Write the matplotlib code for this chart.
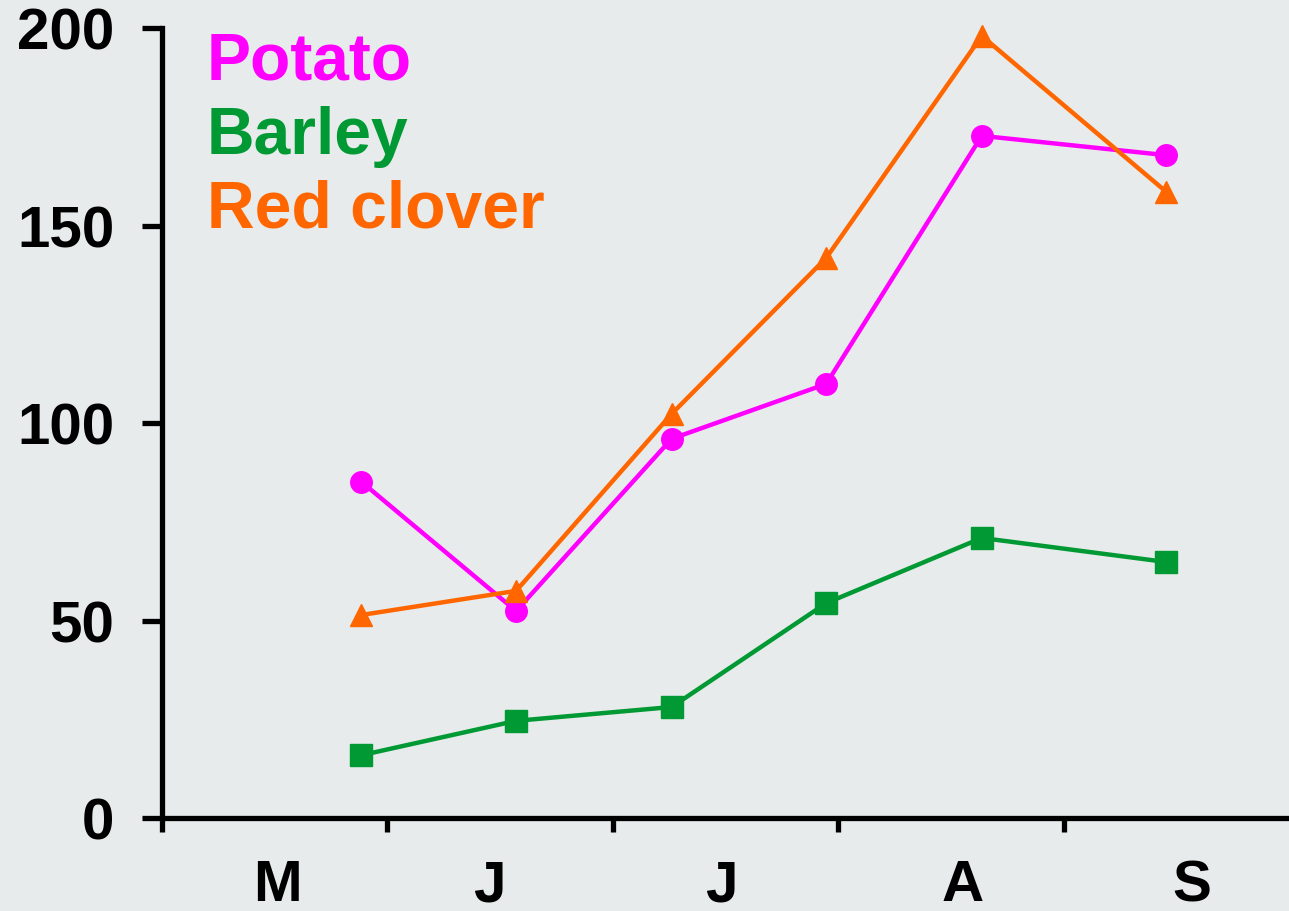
import matplotlib
matplotlib.use("Agg")
from matplotlib import pyplot as plt

# sampling dates in month units (0 = start of May)
dates = [0.885, 1.571, 2.261, 2.947, 3.637, 4.456]
potato = [85.1, 52.4, 96.0, 109.9, 172.7, 167.8]
barley = [15.9, 24.6, 28.1, 54.4, 70.9, 64.8]
red_clover = [51.4, 57.5, 102.3, 141.8, 198.0, 158.5]

month_ticks = [0, 1, 2, 3, 4]
month_label_pos = [0.51, 1.45, 2.48, 3.55, 4.57]
month_labels = ["M", "J", "J", "A", "S"]
y_ticks = [0, 50, 100, 150, 200]

bg = "#e7ebeb"
c_potato = "#ff00ff"
c_barley = "#009933"
c_clover = "#ff6600"

plt.rcParams["font.family"] = ["Liberation Sans", "DejaVu Sans"]
plt.rcParams["font.weight"] = "bold"

fig = plt.figure(figsize=(12.89, 9.12), dpi=100, facecolor=bg)
ax = fig.add_axes([162 / 1289, 93 / 912, (1289 - 162) / 1289, 790 / 912])
ax.set_facecolor(bg)

ax.plot(dates, potato, color=c_potato, lw=3.2, marker="o", ms=15.5, clip_on=False)
ax.plot(dates, barley, color=c_barley, lw=3.2, marker="s", ms=15.5, clip_on=False)
ax.plot(dates, red_clover, color=c_clover, lw=3.2, marker="^", ms=16.5, clip_on=False)

ax.set_xlim(0, 5)
ax.set_ylim(0, 200)

for s in ["top", "right"]:
    ax.spines[s].set_visible(False)
for s in ["left", "bottom"]:
    ax.spines[s].set_linewidth(3.8)

ax.set_yticks(y_ticks)
ax.set_yticklabels([str(v) for v in y_ticks], fontsize=42, fontweight="bold")
ax.tick_params(axis="y", length=14.4, width=3.8, pad=20)

ax.set_xticks(month_ticks)
ax.set_xticklabels([])
ax.tick_params(axis="x", which="major", length=10, width=3.8)
ax.set_xticks(month_label_pos, minor=True)
ax.set_xticklabels(month_labels, minor=True, fontsize=42, fontweight="bold")
ax.tick_params(axis="x", which="minor", length=0, pad=29)

fig.text(207 / 1289, 1 - 79 / 912, "Potato", color=c_potato, fontsize=47.5,
         fontweight="bold", va="baseline")
fig.text(207 / 1289, 1 - 154 / 912, "Barley", color=c_barley, fontsize=47.5,
         fontweight="bold", va="baseline")
fig.text(207 / 1289, 1 - 228 / 912, "Red clover", color=c_clover, fontsize=47.5,
         fontweight="bold", va="baseline")

fig.savefig("out.png", dpi=100, facecolor=bg)
